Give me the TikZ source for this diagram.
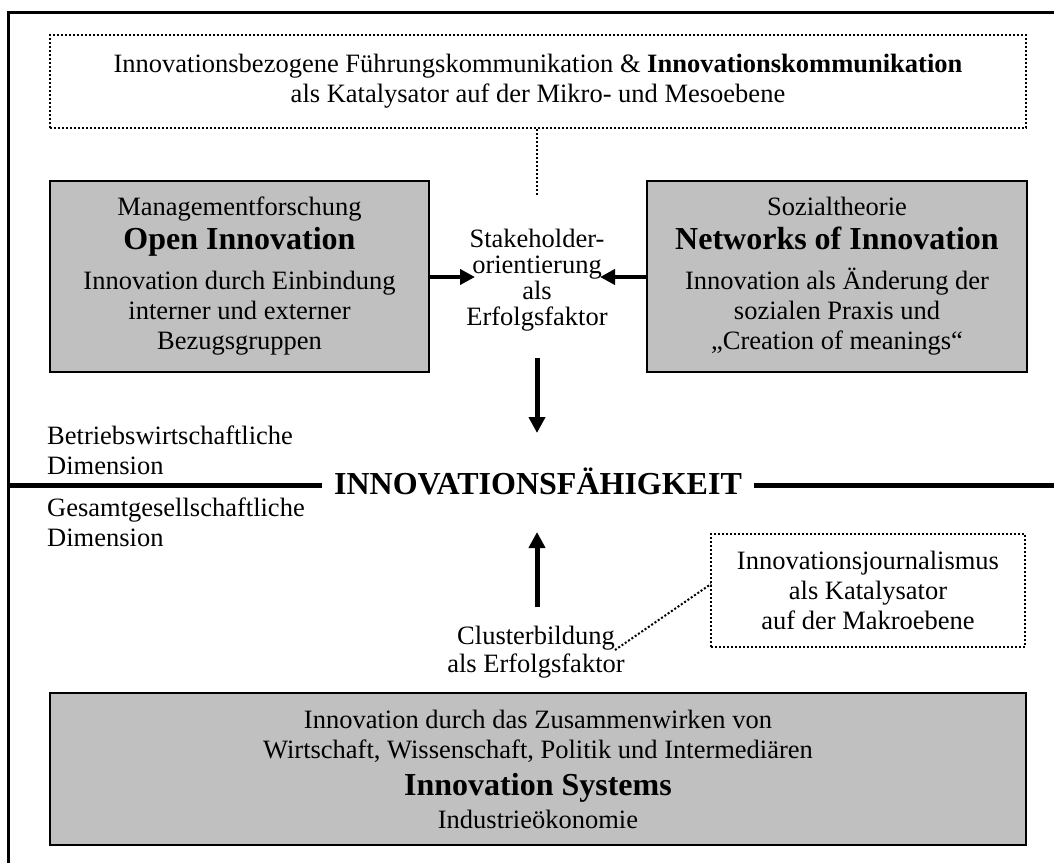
\documentclass[tikz,border=0pt]{standalone}
\usepackage{fontspec}
\setmainfont{Liberation Serif}
\usetikzlibrary{arrows.meta}
\definecolor{boxgray}{RGB}{192,192,192}
\newcommand{\ttl}[1]{{\fontsize{32}{30}\selectfont\bfseries #1}}
\begin{document}
\begin{tikzpicture}[x=1pt,y=-1pt,
  reg/.style={font=\fontsize{26.5}{30}\selectfont, align=center, inner sep=0pt},
  graybox/.style={reg, draw=black, line width=2.5pt, fill=boxgray},
  dotbox/.style={reg, draw=black, line width=2pt, dash pattern=on 2pt off 2pt},
  harrow/.style={line width=4.5pt, -{Triangle[length=15pt,width=15pt]}},
  varrow/.style={line width=5pt, -{Triangle[length=16pt,width=16pt]}},
  dotline/.style={line width=2pt, dash pattern=on 2pt off 2pt},
]
\useasboundingbox (0,0) rectangle (1054,862);
\fill[white] (0,0) rectangle (1054,862);

% outer frame (left and top visible)
\draw[line width=3pt] (8,870) -- (8,12.7) -- (1062,12.7);

% top dotted box
\node[dotbox, minimum width=976pt, minimum height=93pt] (top) at (538,81.5)
  {Innovationsbezogene Führungskommunikation \& \textbf{Innovationskommunikation}\\
   als Katalysator auf der Mikro- und Mesoebene};

% left gray box
\node[graybox, minimum width=379pt, minimum height=191pt] (lbox) at (239.5,276.5)
  {Managementforschung\\[4pt]
   \ttl{Open Innovation}\\[10pt]
   Innovation durch Einbindung\\
   interner und externer\\
   Bezugsgruppen};

% right gray box
\node[graybox, minimum width=380pt, minimum height=191pt] (rbox) at (837,276.5)
  {Sozialtheorie\\[4pt]
   \ttl{Networks of Innovation}\\[10pt]
   Innovation als Änderung der\\
   sozialen Praxis und\\
   „Creation of meanings“};

% stakeholder text
\node[reg, font=\fontsize{26.5}{26}\selectfont] (stake) at (537,280)
  {Stakeholder-\\orientierung\\als\\Erfolgsfaktor};

% central label
\node[font=\fontsize{32}{36}\selectfont\bfseries, inner xsep=12pt, inner ysep=0pt] (cap) at (538,481)
  {INNOVATIONSFÄHIGKEIT};

\node[reg, anchor=west, align=left] (bw) at (47,450) {Betriebswirtschaftliche\\Dimension};
\node[reg, anchor=west, align=left] (gg) at (47,522) {Gesamtgesellschaftliche\\Dimension};

% journalism dotted box
\node[dotbox, minimum width=314pt, minimum height=113pt] (jbox) at (868,590.5)
  {Innovationsjournalismus\\als Katalysator\\auf der Makroebene};

% cluster text
\node[reg, font=\fontsize{26.5}{28}\selectfont] (clust) at (536,652)
  {Clusterbildung\\als Erfolgsfaktor};

% bottom gray box
\node[graybox, minimum width=976pt, minimum height=152pt] (bbox) at (538,769)
  {Innovation durch das Zusammenwirken von\\
   Wirtschaft, Wissenschaft, Politik und Intermediären\\[7pt]
   \ttl{Innovation Systems}\\[3pt]
   Industrieökonomie};

% coordinates
\coordinate (hl) at (8,485);
\coordinate (hr) at (1062,485);
\coordinate (mid) at (537,195);
\coordinate (la) at (475,277);
\coordinate (ra) at (600,277);
\coordinate (d1) at (537,358);
\coordinate (d2) at (537,433);
\coordinate (u1) at (537,607);
\coordinate (u2) at (537,532);
\coordinate (cl) at (615,650);
\coordinate (jt) at (711,584);

% horizontal divider
\draw[line width=5pt] (hl) -- (hl -| cap.west);
\draw[line width=5pt] (cap.east |- hr) -- (hr);

% connectors
\draw[dotline] (top.south -| mid) -- (mid);
\draw[harrow] (lbox.east |- la) -- (la);
\draw[harrow] (rbox.west |- ra) -- (ra);
\draw[varrow] (d1) -- (d2);
\draw[varrow] (u1) -- (u2);
\draw[dotline] (cl) -- (jt);
\end{tikzpicture}
\end{document}
